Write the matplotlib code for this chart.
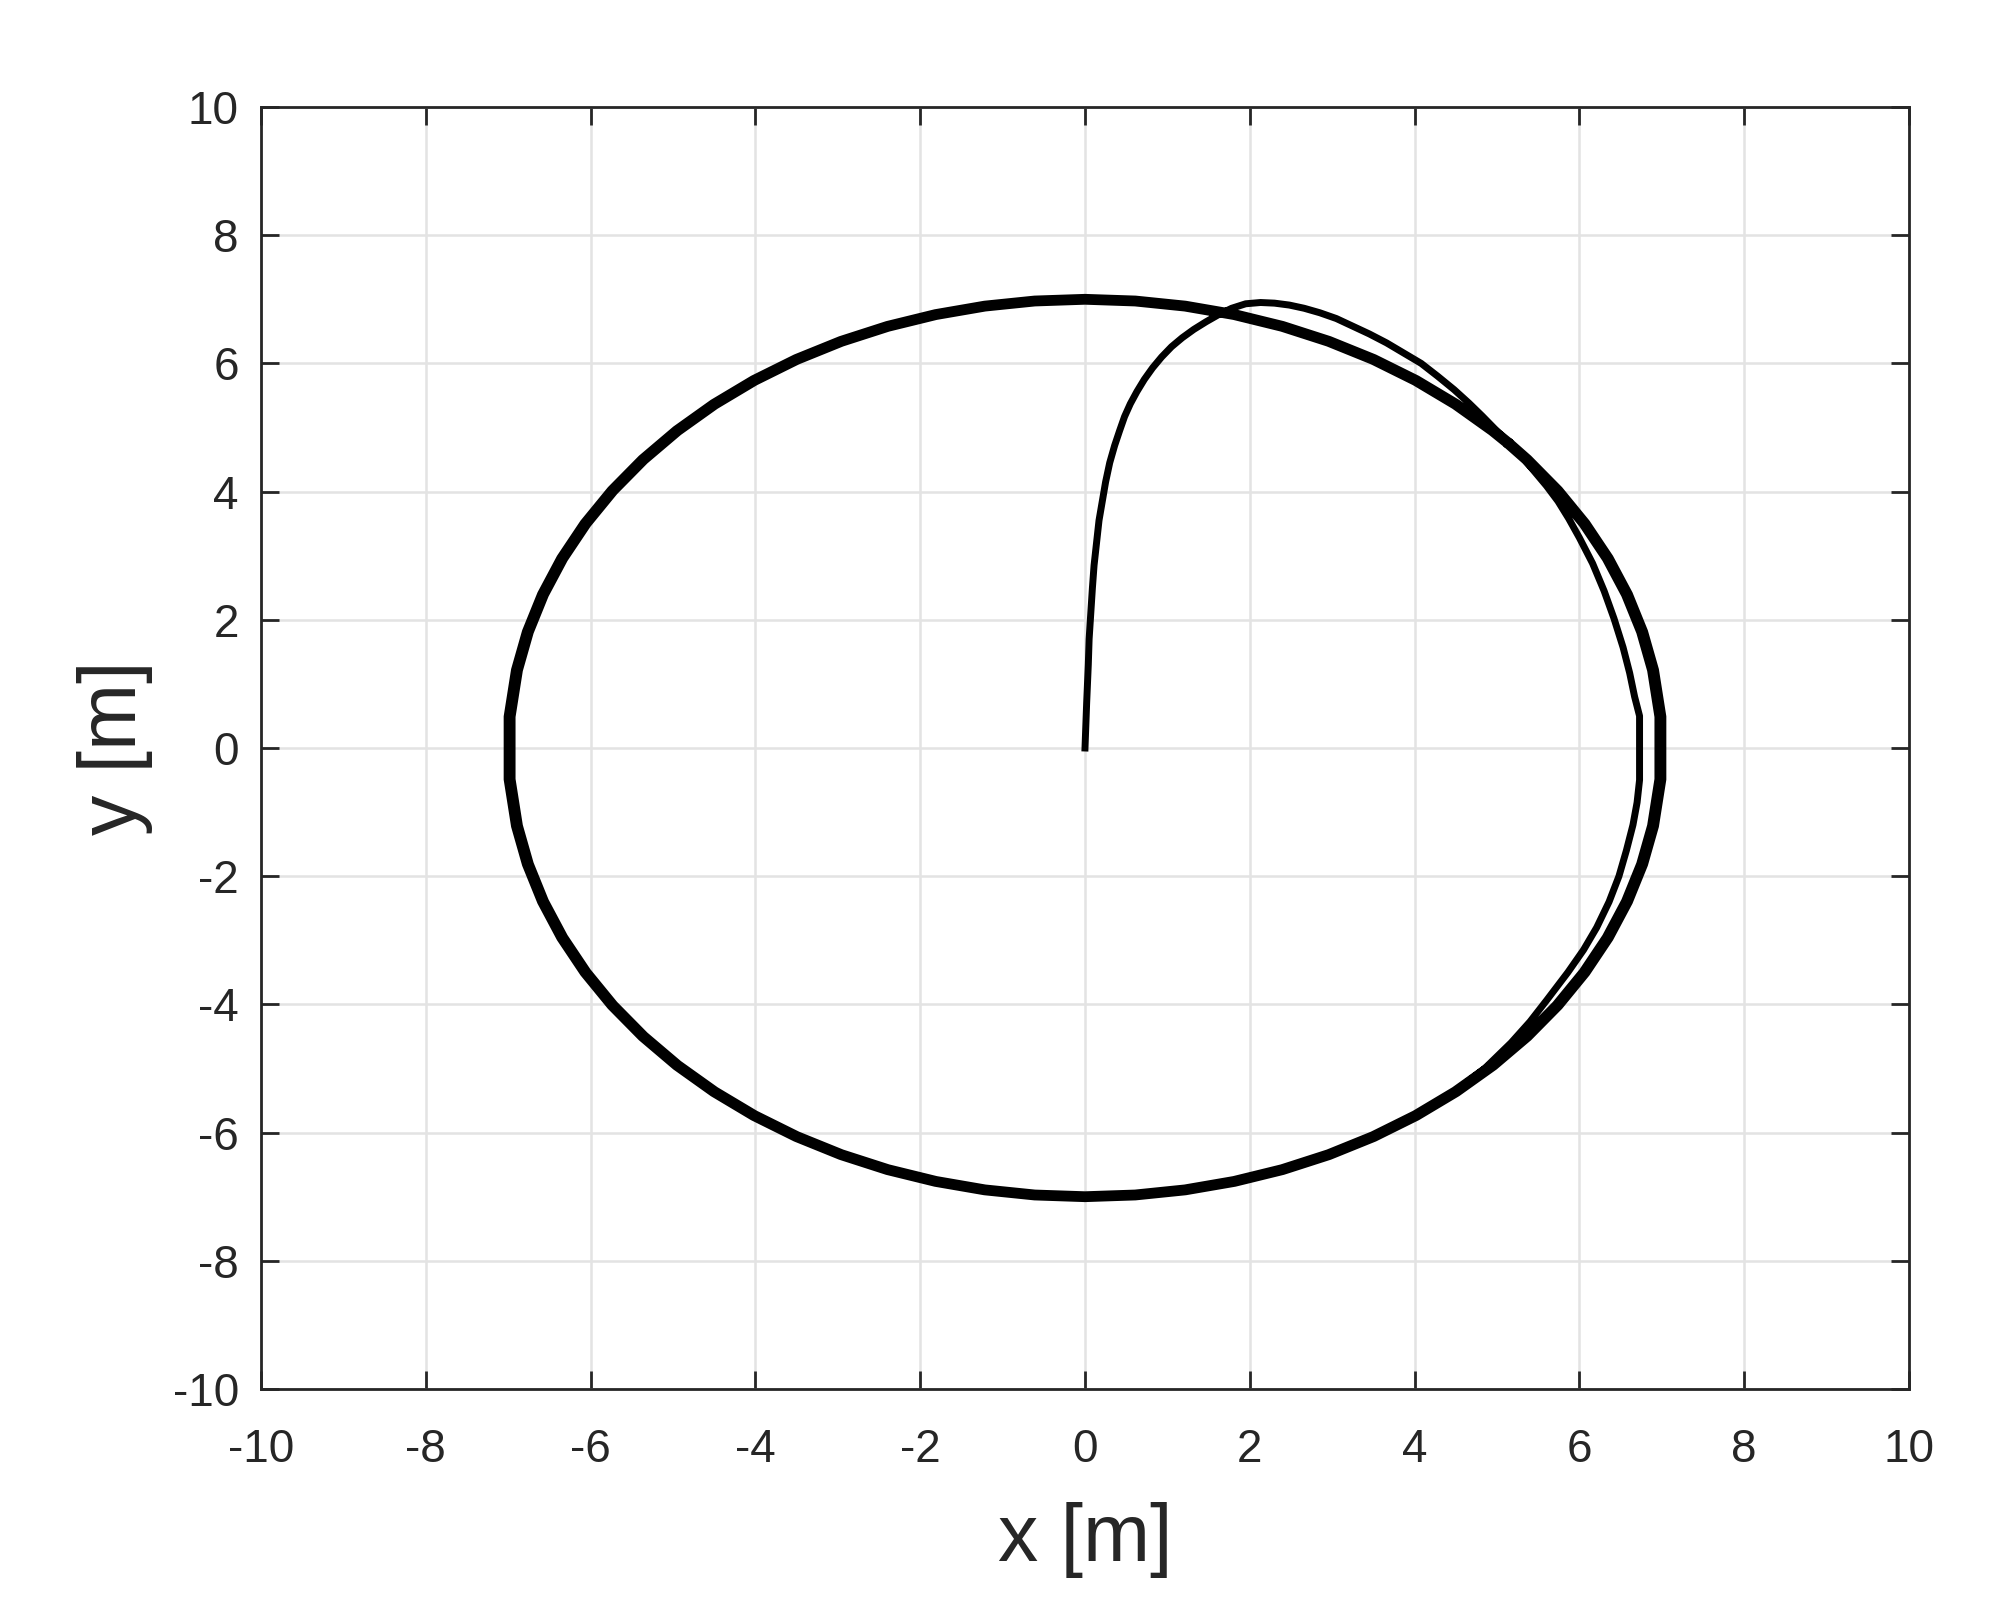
#!/usr/bin/env python3
"""
plot.py - robot xy trajectory converging onto a 7 m circle (MATLAB-like look)
"""
import numpy as np
import matplotlib.pyplot as plt

plt.rcParams['font.family'] = ['Liberation Sans', 'DejaVu Sans']
plt.rcParams['axes.unicode_minus'] = False

# approach from the origin up to where it joins the circle
approach_x = [0.00, 0.02, 0.04, 0.05, 0.07, 0.09, 0.11, 0.14, 0.17, 0.21, 0.25,
              0.30, 0.36, 0.42, 0.48, 0.55, 0.63, 0.72, 0.82, 0.93, 1.05, 1.18,
              1.32, 1.47, 1.62, 1.78, 1.95, 2.13, 2.30, 2.48, 2.66, 2.85, 3.05,
              3.25, 3.45, 3.66, 3.87, 4.08, 4.28, 4.48, 4.66, 4.82, 4.98, 5.14]
approach_y = [0.00, 0.70, 1.30, 1.70, 2.10, 2.50, 2.85, 3.20, 3.55, 3.85, 4.15,
              4.45, 4.72, 4.95, 5.17, 5.37, 5.56, 5.75, 5.93, 6.10, 6.26, 6.40,
              6.53, 6.65, 6.76, 6.86, 6.93, 6.95, 6.94, 6.91, 6.86, 6.79, 6.70,
              6.58, 6.46, 6.32, 6.16, 6.00, 5.80, 5.59, 5.38, 5.18, 4.97, 4.76]

# laps around the circle: sample angles (deg, clockwise) and radius of each lap
circle_deg = [42.8, 40, 35, 30, 25, 20, 15, 10, 4, -4, -10, -15, -20, -25, -30,
              -35, -40, -45, -50, -55, -60, -65, -70, -75, -80, -85, -90, -95,
              -100, -105, -110, -115, -120, -125, -130, -135, -140, -145, -150,
              -155, -160, -165, -170, -176, -184, -190, -195, -200, -205, -210,
              -215, -220, -225, -230, -235, -240, -245, -250, -255, -260, -265,
              -270, -275, -280, -285, -290, -295, -300, -305, -310, -315, -317.2]
lap_radius = [7.03, 6.97]

# lap where the path cuts inside the circle on the right side
inner_x = [5.14, 5.30, 5.45, 5.60, 5.74, 5.87, 6.00, 6.16, 6.30, 6.42, 6.53,
           6.61, 6.67, 6.73, 6.73, 6.70, 6.65, 6.57, 6.48, 6.36, 6.21, 6.05,
           5.86, 5.60, 5.40, 5.17, 4.85, 4.45]
inner_y = [4.76, 4.55, 4.32, 4.09, 3.85, 3.58, 3.28, 2.88, 2.45, 2.02, 1.57,
           1.17, 0.80, 0.50, -0.50, -0.85, -1.20, -1.60, -2.00, -2.40, -2.80,
           -3.15, -3.50, -3.94, -4.27, -4.60, -5.00, -5.40]

# last part of the run after the inside cut
final_radius = 7.00
final_start_deg = -55


def build_path():
    xs = list(approach_x)
    ys = list(approach_y)
    th = np.deg2rad(circle_deg)
    for r in lap_radius:
        xs += list(r * np.cos(th))
        ys += list(r * np.sin(th))
    xs += inner_x
    ys += inner_y
    deg = np.array(circle_deg)
    th = np.deg2rad(deg[deg <= final_start_deg])
    xs += list(final_radius * np.cos(th))
    ys += list(final_radius * np.sin(th))
    return xs, ys


def main():
    dark = '#262626'
    fig = plt.figure(figsize=(10.08, 8.055), dpi=200)
    ax = fig.add_axes([261 / 2016, 1 - 1389 / 1611,
                       (1909 - 261) / 2016, (1389 - 107) / 1611])

    xs, ys = build_path()
    ax.plot(xs, ys, color='black', linewidth=2.5, solid_joinstyle='round')

    ax.set_xlim(-10, 10)
    ax.set_ylim(-10, 10)
    ax.set_xticks(range(-10, 11, 2))
    ax.set_yticks(range(-10, 11, 2))
    ax.grid(True, color='#e3e3e3', linewidth=0.9)
    ax.set_axisbelow(True)

    for sp in ax.spines.values():
        sp.set_color(dark)
        sp.set_linewidth(1.0)
    ax.tick_params(direction='in', length=6.5, width=1.0, top=True, right=True,
                   colors=dark, labelsize=16.5)
    ax.tick_params(axis='x', pad=14)
    ax.tick_params(axis='y', pad=8)

    ax.set_xlabel('x [m]', fontsize=29, color=dark, labelpad=11)
    ax.set_ylabel('y [m]', fontsize=29, color=dark, labelpad=7)

    fig.savefig('out.png', dpi=200)
    plt.close(fig)


if __name__ == '__main__':
    main()
